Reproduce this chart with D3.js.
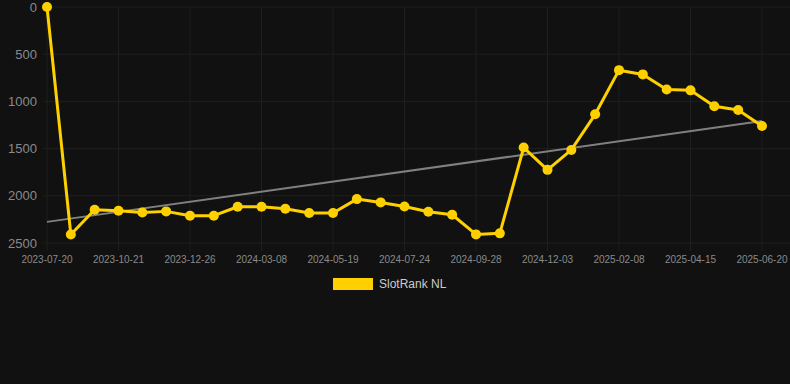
<!DOCTYPE html>
<html lang="en">
<head>
    <meta charset="UTF-8">
    <title>SlotRank NL</title>
    <script src="https://d3js.org/d3.v7.min.js"></script>
    <style>
        body, html {
            margin: 0;
            padding: 0;
            overflow: hidden;
            background: #111111;
        }
        svg { display: block; }
    </style>
</head>
<body>
<script>
    // dates (only every third one is labelled in the chart; the others are estimates)
    const dates = [
        "2023-07-20", "2023-08-20", "2023-09-20", "2023-10-21", "2023-11-12", "2023-12-04",
        "2023-12-26", "2024-01-20", "2024-02-14", "2024-03-08", "2024-04-01", "2024-04-25",
        "2024-05-19", "2024-06-10", "2024-07-02", "2024-07-24", "2024-08-15", "2024-09-06",
        "2024-09-28", "2024-10-20", "2024-11-11", "2024-12-03", "2024-12-25", "2025-01-17",
        "2025-02-08", "2025-03-02", "2025-03-24", "2025-04-15", "2025-05-07", "2025-05-29",
        "2025-06-20"
    ];

    const ranks = [
        0, 2410, 2148, 2158, 2176, 2165, 2211, 2211, 2116, 2116, 2137, 2183,
        2183, 2035, 2070, 2113, 2169, 2201, 2409, 2398, 1489, 1725, 1514, 1137,
        669, 714, 873, 883, 1052, 1091, 1260
    ];

    const yTicks = [0, 500, 1000, 1500, 2000, 2500];
    const seriesName = "SlotRank NL";

    const width = 790;
    const height = 384;
    const margin = { top: 7, right: 28, bottom: 141, left: 47 };
    const font = "'Liberation Sans', Arial, sans-serif";

    const svg = d3.select("body")
        .append("svg")
        .attr("width", width)
        .attr("height", height)
        .style("background", "#111111");

    const x = d3.scalePoint()
        .domain(dates)
        .range([margin.left, width - margin.right]);

    const y = d3.scaleLinear()
        .domain([0, 2500])
        .range([margin.top, height - margin.bottom]);

    const labelled = dates.filter((d, i) => i % 3 === 0);

    // horizontal grid
    svg.append("g")
        .selectAll("line")
        .data(yTicks)
        .join("line")
        .attr("x1", 43)
        .attr("x2", width)
        .attr("y1", d => y(d))
        .attr("y2", d => y(d))
        .attr("stroke", "#1f1f1f")
        .attr("stroke-width", 1);

    // vertical grid
    svg.append("g")
        .selectAll("line")
        .data(labelled)
        .join("line")
        .attr("x1", d => x(d))
        .attr("x2", d => x(d))
        .attr("y1", margin.top)
        .attr("y2", y(2500) + 8)
        .attr("stroke", "#1f1f1f")
        .attr("stroke-width", 1);

    // y axis labels
    svg.append("g")
        .selectAll("text")
        .data(yTicks)
        .join("text")
        .attr("x", 37)
        .attr("y", d => y(d))
        .attr("dy", "0.35em")
        .attr("text-anchor", "end")
        .attr("fill", "#8a8a8a")
        .attr("font-family", font)
        .attr("font-size", 13)
        .text(d => d);

    // x axis labels
    svg.append("g")
        .selectAll("text")
        .data(labelled)
        .join("text")
        .attr("x", d => x(d))
        .attr("y", y(2500) + 16)
        .attr("dy", "0.35em")
        .attr("text-anchor", "middle")
        .attr("fill", "#8a8a8a")
        .attr("font-family", font)
        .attr("font-size", 10)
        .text(d => d);

    // linear trend line (least squares over the index)
    const n = ranks.length;
    const mx = d3.mean(ranks, (d, i) => i);
    const my = d3.mean(ranks);
    const slope = d3.sum(ranks, (d, i) => (i - mx) * (d - my)) / d3.sum(ranks, (d, i) => (i - mx) * (i - mx));
    const icpt = my - slope * mx;

    svg.append("line")
        .attr("x1", x(dates[0]))
        .attr("x2", x(dates[n - 1]))
        .attr("y1", y(icpt))
        .attr("y2", y(icpt + slope * (n - 1)))
        .attr("stroke", "#808080")
        .attr("stroke-width", 2);

    // series line
    const line = d3.line()
        .x((d, i) => x(dates[i]))
        .y(d => y(d));

    svg.append("path")
        .datum(ranks)
        .attr("fill", "none")
        .attr("stroke", "#ffd000")
        .attr("stroke-width", 3)
        .attr("stroke-linejoin", "round")
        .attr("d", line);

    svg.append("g")
        .selectAll("circle")
        .data(ranks)
        .join("circle")
        .attr("cx", (d, i) => x(dates[i]))
        .attr("cy", d => y(d))
        .attr("r", 5)
        .attr("fill", "#ffd000");

    // legend
    const legend = svg.append("g").attr("transform", "translate(333,278)");
    legend.append("rect")
        .attr("width", 40)
        .attr("height", 12)
        .attr("fill", "#ffd000");
    legend.append("text")
        .attr("x", 46)
        .attr("y", 6)
        .attr("dy", "0.35em")
        .attr("fill", "#cccccc")
        .attr("font-family", font)
        .attr("font-size", 12)
        .text(seriesName);
</script>
</body>
</html>
